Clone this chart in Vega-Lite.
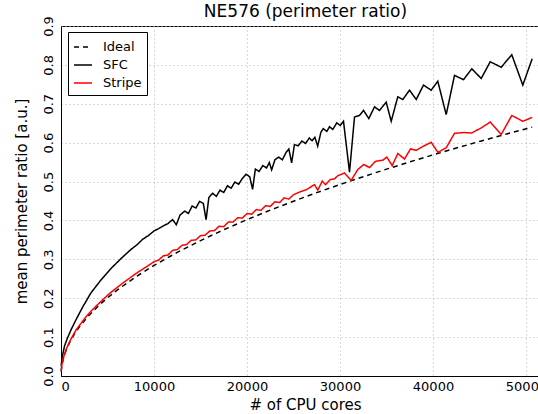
{
  "$schema": "https://vega.github.io/schema/vega-lite/v6.json",
  "autosize": {"type": "none"},
  "padding": {"left": 61, "top": 26, "right": 0, "bottom": 38},
  "width": 477,
  "height": 350,
  "background": "#ffffff",
  "config": {
    "font": "DejaVu Sans",
    "view": {"stroke": "#000000", "strokeWidth": 1},
    "axis": {
      "domainColor": "#000000",
      "domainWidth": 1,
      "ticks": false,
      "grid": true,
      "gridColor": "#b0b0b0",
      "gridDash": [1, 3],
      "gridWidth": 1,
      "labelColor": "#000000",
      "labelFontSize": 13,
      "titleColor": "#000000",
      "titleFontSize": 15,
      "titleFontWeight": "normal"
    },
    "legend": {
      "orient": "none",
      "legendX": 7,
      "legendY": 6,
      "strokeColor": "#000000",
      "fillColor": "#ffffff",
      "padding": 5,
      "cornerRadius": 0,
      "symbolType": "stroke",
      "symbolSize": 324,
      "symbolStrokeWidth": 1.5,
      "labelFontSize": 13,
      "labelColor": "#000000",
      "labelOffset": 10,
      "rowPadding": 1
    }
  },
  "title": {
    "text": "NE576 (perimeter ratio)",
    "fontSize": 17,
    "fontWeight": "normal",
    "color": "#000000",
    "anchor": "middle",
    "dx": 6,
    "dy": 11,
    "offset": 6
  },
  "data": {
    "values": [
      {"s": "Ideal", "x": 16, "y": 0.0114},
      {"s": "Ideal", "x": 100, "y": 0.0284},
      {"s": "Ideal", "x": 300, "y": 0.0492},
      {"s": "Ideal", "x": 600, "y": 0.0696},
      {"s": "Ideal", "x": 1000, "y": 0.0899},
      {"s": "Ideal", "x": 1500, "y": 0.1101},
      {"s": "Ideal", "x": 2000, "y": 0.1271},
      {"s": "Ideal", "x": 3000, "y": 0.1557},
      {"s": "Ideal", "x": 4000, "y": 0.1798},
      {"s": "Ideal", "x": 5000, "y": 0.2010},
      {"s": "Ideal", "x": 6000, "y": 0.2202},
      {"s": "Ideal", "x": 8000, "y": 0.2543},
      {"s": "Ideal", "x": 10000, "y": 0.2843},
      {"s": "Ideal", "x": 12500, "y": 0.3179},
      {"s": "Ideal", "x": 15000, "y": 0.3482},
      {"s": "Ideal", "x": 17500, "y": 0.3761},
      {"s": "Ideal", "x": 20000, "y": 0.4021},
      {"s": "Ideal", "x": 22500, "y": 0.4265},
      {"s": "Ideal", "x": 25000, "y": 0.4495},
      {"s": "Ideal", "x": 27500, "y": 0.4715},
      {"s": "Ideal", "x": 30000, "y": 0.4924},
      {"s": "Ideal", "x": 32500, "y": 0.5125},
      {"s": "Ideal", "x": 35000, "y": 0.5319},
      {"s": "Ideal", "x": 37500, "y": 0.5505},
      {"s": "Ideal", "x": 40000, "y": 0.5686},
      {"s": "Ideal", "x": 42500, "y": 0.5861},
      {"s": "Ideal", "x": 45000, "y": 0.6031},
      {"s": "Ideal", "x": 47500, "y": 0.6196},
      {"s": "Ideal", "x": 50667, "y": 0.6399},

      {"s": "SFC", "x": 16, "y": 0.025},
      {"s": "SFC", "x": 100, "y": 0.045},
      {"s": "SFC", "x": 376, "y": 0.077},
      {"s": "SFC", "x": 700, "y": 0.098},
      {"s": "SFC", "x": 1100, "y": 0.12},
      {"s": "SFC", "x": 1600, "y": 0.144},
      {"s": "SFC", "x": 2300, "y": 0.176},
      {"s": "SFC", "x": 3200, "y": 0.213},
      {"s": "SFC", "x": 4300, "y": 0.247},
      {"s": "SFC", "x": 5400, "y": 0.277},
      {"s": "SFC", "x": 6500, "y": 0.303},
      {"s": "SFC", "x": 7500, "y": 0.325},
      {"s": "SFC", "x": 8200, "y": 0.338},
      {"s": "SFC", "x": 8800, "y": 0.352},
      {"s": "SFC", "x": 9400, "y": 0.361},
      {"s": "SFC", "x": 10000, "y": 0.373},
      {"s": "SFC", "x": 10500, "y": 0.379},
      {"s": "SFC", "x": 11000, "y": 0.386},
      {"s": "SFC", "x": 11500, "y": 0.392},
      {"s": "SFC", "x": 12000, "y": 0.402},
      {"s": "SFC", "x": 12400, "y": 0.389},
      {"s": "SFC", "x": 12800, "y": 0.414},
      {"s": "SFC", "x": 13300, "y": 0.424},
      {"s": "SFC", "x": 13700, "y": 0.418},
      {"s": "SFC", "x": 14100, "y": 0.437},
      {"s": "SFC", "x": 14500, "y": 0.432},
      {"s": "SFC", "x": 14900, "y": 0.449},
      {"s": "SFC", "x": 15300, "y": 0.444},
      {"s": "SFC", "x": 15600, "y": 0.402},
      {"s": "SFC", "x": 15900, "y": 0.459},
      {"s": "SFC", "x": 16300, "y": 0.470},
      {"s": "SFC", "x": 16700, "y": 0.462},
      {"s": "SFC", "x": 17100, "y": 0.478},
      {"s": "SFC", "x": 17500, "y": 0.472},
      {"s": "SFC", "x": 17900, "y": 0.489},
      {"s": "SFC", "x": 18300, "y": 0.483},
      {"s": "SFC", "x": 18700, "y": 0.499},
      {"s": "SFC", "x": 19100, "y": 0.493},
      {"s": "SFC", "x": 19500, "y": 0.508},
      {"s": "SFC", "x": 19900, "y": 0.519},
      {"s": "SFC", "x": 20300, "y": 0.512},
      {"s": "SFC", "x": 20600, "y": 0.480},
      {"s": "SFC", "x": 20900, "y": 0.532},
      {"s": "SFC", "x": 21300, "y": 0.526},
      {"s": "SFC", "x": 21700, "y": 0.541},
      {"s": "SFC", "x": 22100, "y": 0.535},
      {"s": "SFC", "x": 22400, "y": 0.549},
      {"s": "SFC", "x": 22650, "y": 0.530},
      {"s": "SFC", "x": 23000, "y": 0.556},
      {"s": "SFC", "x": 23400, "y": 0.563},
      {"s": "SFC", "x": 23800, "y": 0.556},
      {"s": "SFC", "x": 24200, "y": 0.575},
      {"s": "SFC", "x": 24500, "y": 0.584},
      {"s": "SFC", "x": 24800, "y": 0.548},
      {"s": "SFC", "x": 25100, "y": 0.595},
      {"s": "SFC", "x": 25500, "y": 0.592},
      {"s": "SFC", "x": 25900, "y": 0.604},
      {"s": "SFC", "x": 26300, "y": 0.598},
      {"s": "SFC", "x": 26700, "y": 0.612},
      {"s": "SFC", "x": 27000, "y": 0.605},
      {"s": "SFC", "x": 27300, "y": 0.614},
      {"s": "SFC", "x": 27600, "y": 0.591},
      {"s": "SFC", "x": 27950, "y": 0.627},
      {"s": "SFC", "x": 28200, "y": 0.636},
      {"s": "SFC", "x": 28581, "y": 0.629},
      {"s": "SFC", "x": 28871, "y": 0.641},
      {"s": "SFC", "x": 29226, "y": 0.634},
      {"s": "SFC", "x": 29656, "y": 0.651},
      {"s": "SFC", "x": 30022, "y": 0.644},
      {"s": "SFC", "x": 30376, "y": 0.655},
      {"s": "SFC", "x": 31022, "y": 0.524},
      {"s": "SFC", "x": 31559, "y": 0.666},
      {"s": "SFC", "x": 32097, "y": 0.670},
      {"s": "SFC", "x": 32527, "y": 0.683},
      {"s": "SFC", "x": 33097, "y": 0.662},
      {"s": "SFC", "x": 33710, "y": 0.692},
      {"s": "SFC", "x": 34247, "y": 0.683},
      {"s": "SFC", "x": 34968, "y": 0.704},
      {"s": "SFC", "x": 35505, "y": 0.655},
      {"s": "SFC", "x": 36215, "y": 0.718},
      {"s": "SFC", "x": 36753, "y": 0.711},
      {"s": "SFC", "x": 37473, "y": 0.735},
      {"s": "SFC", "x": 38194, "y": 0.711},
      {"s": "SFC", "x": 38978, "y": 0.748},
      {"s": "SFC", "x": 39806, "y": 0.735},
      {"s": "SFC", "x": 40516, "y": 0.758},
      {"s": "SFC", "x": 41419, "y": 0.672},
      {"s": "SFC", "x": 42312, "y": 0.773},
      {"s": "SFC", "x": 43280, "y": 0.762},
      {"s": "SFC", "x": 44172, "y": 0.790},
      {"s": "SFC", "x": 45183, "y": 0.765},
      {"s": "SFC", "x": 46151, "y": 0.808},
      {"s": "SFC", "x": 47333, "y": 0.794},
      {"s": "SFC", "x": 48473, "y": 0.826},
      {"s": "SFC", "x": 49656, "y": 0.748},
      {"s": "SFC", "x": 50667, "y": 0.816},

      {"s": "Stripe", "x": 16, "y": 0.012},
      {"s": "Stripe", "x": 100, "y": 0.030},
      {"s": "Stripe", "x": 300, "y": 0.050},
      {"s": "Stripe", "x": 600, "y": 0.071},
      {"s": "Stripe", "x": 1000, "y": 0.092},
      {"s": "Stripe", "x": 1634, "y": 0.119},
      {"s": "Stripe", "x": 2300, "y": 0.140},
      {"s": "Stripe", "x": 2710, "y": 0.153},
      {"s": "Stripe", "x": 3200, "y": 0.166},
      {"s": "Stripe", "x": 3785, "y": 0.180},
      {"s": "Stripe", "x": 4400, "y": 0.194},
      {"s": "Stripe", "x": 5215, "y": 0.212},
      {"s": "Stripe", "x": 6000, "y": 0.227},
      {"s": "Stripe", "x": 6645, "y": 0.239},
      {"s": "Stripe", "x": 7400, "y": 0.252},
      {"s": "Stripe", "x": 8086, "y": 0.264},
      {"s": "Stripe", "x": 8800, "y": 0.275},
      {"s": "Stripe", "x": 9516, "y": 0.286},
      {"s": "Stripe", "x": 10000, "y": 0.294},
      {"s": "Stripe", "x": 10500, "y": 0.298},
      {"s": "Stripe", "x": 11000, "y": 0.309},
      {"s": "Stripe", "x": 11500, "y": 0.311},
      {"s": "Stripe", "x": 12000, "y": 0.323},
      {"s": "Stripe", "x": 12500, "y": 0.325},
      {"s": "Stripe", "x": 13000, "y": 0.336},
      {"s": "Stripe", "x": 13500, "y": 0.338},
      {"s": "Stripe", "x": 14000, "y": 0.349},
      {"s": "Stripe", "x": 14500, "y": 0.350},
      {"s": "Stripe", "x": 15000, "y": 0.361},
      {"s": "Stripe", "x": 15500, "y": 0.362},
      {"s": "Stripe", "x": 16000, "y": 0.373},
      {"s": "Stripe", "x": 16500, "y": 0.374},
      {"s": "Stripe", "x": 17000, "y": 0.385},
      {"s": "Stripe", "x": 17500, "y": 0.384},
      {"s": "Stripe", "x": 18000, "y": 0.396},
      {"s": "Stripe", "x": 18500, "y": 0.396},
      {"s": "Stripe", "x": 19000, "y": 0.407},
      {"s": "Stripe", "x": 19500, "y": 0.406},
      {"s": "Stripe", "x": 20000, "y": 0.418},
      {"s": "Stripe", "x": 20500, "y": 0.416},
      {"s": "Stripe", "x": 21000, "y": 0.428},
      {"s": "Stripe", "x": 21500, "y": 0.426},
      {"s": "Stripe", "x": 22000, "y": 0.438},
      {"s": "Stripe", "x": 22500, "y": 0.436},
      {"s": "Stripe", "x": 23000, "y": 0.448},
      {"s": "Stripe", "x": 23500, "y": 0.446},
      {"s": "Stripe", "x": 24000, "y": 0.458},
      {"s": "Stripe", "x": 24500, "y": 0.455},
      {"s": "Stripe", "x": 25000, "y": 0.466},
      {"s": "Stripe", "x": 25645, "y": 0.473},
      {"s": "Stripe", "x": 26362, "y": 0.479},
      {"s": "Stripe", "x": 27258, "y": 0.492},
      {"s": "Stripe", "x": 27613, "y": 0.478},
      {"s": "Stripe", "x": 28086, "y": 0.501},
      {"s": "Stripe", "x": 28441, "y": 0.492},
      {"s": "Stripe", "x": 28946, "y": 0.505},
      {"s": "Stripe", "x": 29409, "y": 0.507},
      {"s": "Stripe", "x": 29763, "y": 0.515},
      {"s": "Stripe", "x": 30484, "y": 0.522},
      {"s": "Stripe", "x": 31204, "y": 0.503},
      {"s": "Stripe", "x": 31914, "y": 0.531},
      {"s": "Stripe", "x": 32559, "y": 0.544},
      {"s": "Stripe", "x": 33172, "y": 0.536},
      {"s": "Stripe", "x": 33817, "y": 0.552},
      {"s": "Stripe", "x": 34602, "y": 0.555},
      {"s": "Stripe", "x": 35032, "y": 0.563},
      {"s": "Stripe", "x": 35613, "y": 0.541},
      {"s": "Stripe", "x": 36215, "y": 0.572},
      {"s": "Stripe", "x": 36935, "y": 0.558},
      {"s": "Stripe", "x": 37581, "y": 0.584},
      {"s": "Stripe", "x": 38194, "y": 0.580},
      {"s": "Stripe", "x": 38978, "y": 0.591},
      {"s": "Stripe", "x": 39806, "y": 0.601},
      {"s": "Stripe", "x": 40516, "y": 0.575},
      {"s": "Stripe", "x": 41419, "y": 0.587},
      {"s": "Stripe", "x": 42312, "y": 0.624},
      {"s": "Stripe", "x": 43280, "y": 0.626},
      {"s": "Stripe", "x": 44172, "y": 0.625},
      {"s": "Stripe", "x": 45183, "y": 0.638},
      {"s": "Stripe", "x": 46151, "y": 0.653},
      {"s": "Stripe", "x": 47333, "y": 0.621},
      {"s": "Stripe", "x": 48473, "y": 0.670},
      {"s": "Stripe", "x": 49656, "y": 0.655},
      {"s": "Stripe", "x": 50667, "y": 0.665}
    ]
  },
  "mark": {"type": "line", "strokeWidth": 1.5},
  "encoding": {
    "x": {
      "field": "x",
      "type": "quantitative",
      "scale": {"domain": [0, 51290], "nice": false, "zero": false},
      "axis": {
        "values": [0, 10000, 20000, 30000, 40000, 50000],
        "format": "d",
        "title": "# of CPU cores",
        "labelPadding": 4,
        "titlePadding": 4,
        "titleX": 244
      }
    },
    "y": {
      "field": "y",
      "type": "quantitative",
      "scale": {"domain": [0, 0.9], "nice": false},
      "axis": {
        "values": [0, 0.1, 0.2, 0.3, 0.4, 0.5, 0.6, 0.7, 0.8, 0.9],
        "format": ".1f",
        "labelAngle": -90,
        "labelAlign": "center",
        "labelBaseline": "bottom",
        "labelPadding": 6,
        "title": "mean perimeter ratio [a.u.]",
        "titlePadding": 13
      }
    },
    "color": {
      "field": "s",
      "type": "nominal",
      "scale": {"domain": ["Ideal", "SFC", "Stripe"], "range": ["#000000", "#000000", "#ff0000"]},
      "legend": {"title": null}
    },
    "strokeDash": {
      "field": "s",
      "type": "nominal",
      "scale": {"domain": ["Ideal", "SFC", "Stripe"], "range": [[5, 4], [1, 0], [1, 0]]},
      "legend": {"title": null}
    }
  }
}
